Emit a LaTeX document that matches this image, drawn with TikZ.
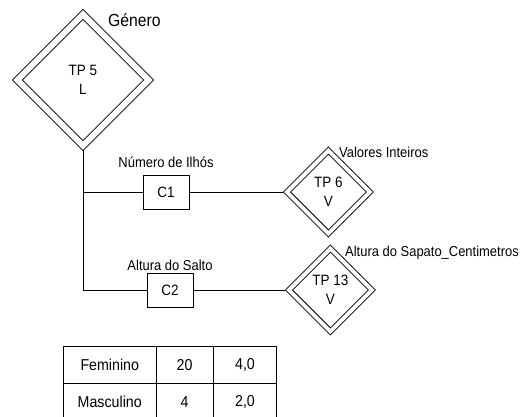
\documentclass[tikz,border=0pt]{standalone}
\usepackage{fontspec}
\setmainfont{Liberation Sans}[FakeStretch=0.9]
\usetikzlibrary{positioning,shapes.geometric}
\tikzset{
  entity/.style={diamond, aspect=1, draw, double, line width=0.9pt, inner sep=0pt,
                 align=center, font=\fontsize{15}{18.5}\selectfont},
  bigentity/.style={entity, minimum width=134pt, minimum height=134pt,
                    double distance=6pt, outer sep=3.45pt},
  smallentity/.style={entity, minimum width=85pt, minimum height=85pt,
                      double distance=4pt, outer sep=2.45pt},
  crit/.style={rectangle, draw, line width=0.9pt, minimum width=46pt, minimum height=34pt,
               font=\fontsize{15}{17}\selectfont},
  note/.style={inner sep=0pt, font=\fontsize{14.4}{16}\selectfont},
  cell/.style={rectangle, draw, line width=0.9pt, outer sep=0pt, minimum height=37.3pt,
               font=\fontsize{15.8}{18}\selectfont},
  link/.style={line width=0.9pt, draw=black}
}

\begin{document}
\begin{tikzpicture}[x=1pt, y=-1pt]
\useasboundingbox (0,0) rectangle (520,416);

\node[bigentity] (gen) at (83,80) {TP 5\\L};
\node[note, font=\fontsize{17.5}{19}\selectfont, anchor=base west] (genname) at (108,26.5) {Género};

\node[crit] (c1) at (166,192) {C1};
\node[note, above=6.5pt of c1] (c1name) {Número de Ilhós};
\node[smallentity, right=94pt of c1] (tp6) {TP 6\\V};
\node[note, anchor=base west] (tp6name) at (339,157.5) {Valores Inteiros};

\node[crit] (c2) at (170,290) {C2};
\node[note, above=2pt of c2] (c2name) {Altura do Salto};
\node[smallentity, right=92pt of c2] (tp13) {TP 13\\V};
\node[note, anchor=base west] (tp13name) at (345,256) {Altura do Sapato\_Centimetros};

% table of values
\node[cell, minimum width=92.5pt] (fem) at (109.75,364.65) {Feminino};
\node[cell, minimum width=57.3pt, right=0pt of fem] (femn) {20};
\node[cell, minimum width=63.4pt, right=0pt of femn] (femh) {4,0};
\node[cell, minimum width=92.5pt, below=0pt of fem] (masc) {Masculino};
\node[cell, minimum width=57.3pt, right=0pt of masc] (mascn) {4};
\node[cell, minimum width=63.4pt, right=0pt of mascn] (masch) {2,0};

\draw[link] (gen.south) |- (c2.west);
\draw[link] (gen.south |- c1.west) -- (c1.west);
\draw[link] (c1) -- (tp6);
\draw[link] (c2) -- (tp13);
\end{tikzpicture}
\end{document}
